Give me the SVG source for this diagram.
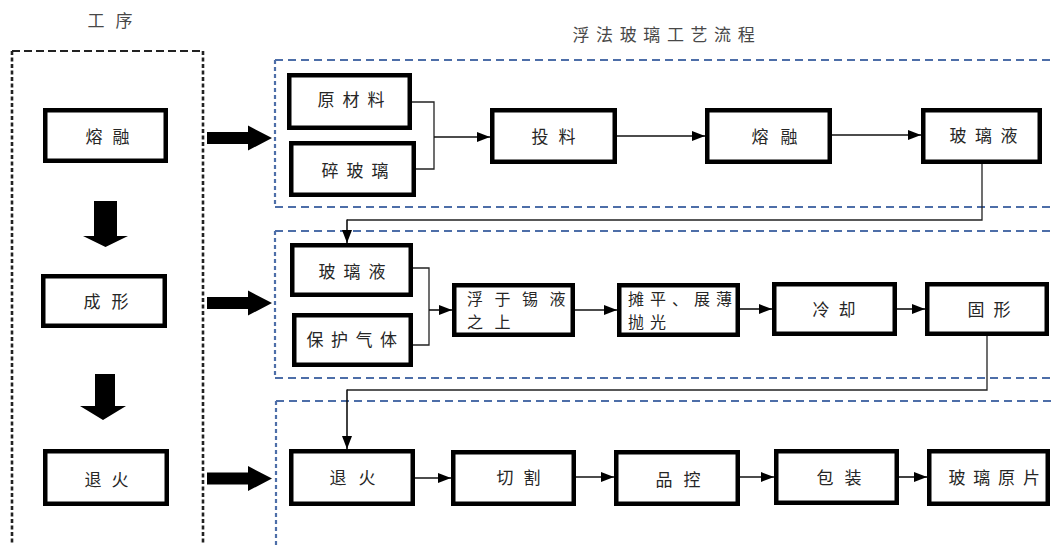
<svg xmlns="http://www.w3.org/2000/svg" width="1051" height="545" viewBox="0 0 1051 545">
<style>
.bg{fill:#ffffff}
.box{fill:#ffffff;stroke:#000000;stroke-width:4.5}
.t{font-family:"Noto Sans CJK SC","Noto Sans",sans-serif;font-size:17px;fill:#262626}
.t2{font-family:"Noto Sans CJK SC","Noto Sans",sans-serif;font-size:16px;fill:#262626}
.tg{font-family:"Noto Sans CJK SC","Noto Sans",sans-serif;font-size:17px;fill:#484848}
.blueH{stroke:#4d6ea8;stroke-width:2.2;stroke-dasharray:8 5;fill:none}
.blueV{stroke:#4d6ea8;stroke-width:2.2;stroke-dasharray:4 3;fill:none}
.blkH{stroke:#222;stroke-width:2.2;stroke-dasharray:8 4;fill:none}
.blkV{stroke:#222;stroke-width:2.6;stroke-dasharray:4 2.5;fill:none}
.c{stroke:#222;stroke-width:1.3;fill:none}
.ca{stroke:#111;stroke-width:1.6;fill:none;marker-end:url(#ah)}
.big{fill:#000}
</style>
<defs>
<marker id="ah" markerUnits="userSpaceOnUse" markerWidth="13" markerHeight="10" refX="13" refY="5" orient="auto">
<path d="M0,0 L13,5 L0,10 z" fill="#000"/>
</marker>
</defs>
<rect class="bg" x="0" y="0" width="1051" height="545"/>

<g id="frames">
<line class="blkH" x1="12" y1="51" x2="203" y2="51"/>
<line class="blkV" x1="12" y1="51" x2="12" y2="545"/>
<line class="blkV" x1="203" y1="51" x2="203" y2="545"/>
<line class="blueH" x1="275" y1="60" x2="1051" y2="60"/>
<line class="blueH" x1="275" y1="207" x2="1051" y2="207"/>
<line class="blueV" x1="275" y1="60" x2="275" y2="207"/>
<line class="blueH" x1="275" y1="231" x2="1051" y2="231"/>
<line class="blueH" x1="275" y1="378" x2="1051" y2="378"/>
<line class="blueV" x1="275" y1="231" x2="275" y2="378"/>
<line class="blueH" x1="276" y1="401" x2="1051" y2="401"/>
<line class="blueV" x1="276" y1="401" x2="276" y2="545"/>
</g>

<g id="titles">
<text class="tg" x="87.5" y="27" letter-spacing="11">工序</text>
<text class="tg" x="572.5" y="41" letter-spacing="6.6">浮法玻璃工艺流程</text>
</g>

<g id="step-melt"><rect class="box" x="45.25" y="110.25" width="120.5" height="50.5"/><text class="t" x="85.5" y="143" letter-spacing="10">熔融</text></g>
<g id="step-form"><rect class="box" x="43.25" y="276.25" width="121.5" height="49.5"/><text class="t" x="83.5" y="308" letter-spacing="11">成形</text></g>
<g id="step-anneal"><rect class="box" x="45.25" y="451.25" width="121.5" height="52.5"/><text class="t" x="84.5" y="486" letter-spacing="10">退火</text></g>

<g id="big-arrows">
<path class="big" d="M94,201 H117 V236 H128 L105.5,247 L83,236 H94 Z"/>
<path class="big" d="M95,374 H115 V406 H126 L103,420 L80,406 H95 Z"/>
<path class="big" d="M207,132 H248 V125.5 L272,138 L248,150.5 V144 H207 Z"/>
<path class="big" d="M207,297 H248 V290.5 L272,303 L248,315.5 V309 H207 Z"/>
<path class="big" d="M207,472.5 H248 V466 L272,478.5 L248,491 V484.5 H207 Z"/>
</g>

<g id="n-raw"><rect class="box" x="289.25" y="75.25" width="120.5" height="52.5"/><text class="t" x="317.5" y="106" letter-spacing="8">原材料</text></g>
<g id="n-cullet"><rect class="box" x="291.25" y="143.25" width="122.5" height="51.5"/><text class="t" x="321.5" y="177" letter-spacing="8">碎玻璃</text></g>
<g id="n-feed"><rect class="box" x="492.25" y="110.25" width="122.5" height="51.5"/><text class="t" x="531.5" y="143" letter-spacing="10">投料</text></g>
<g id="n-melt"><rect class="box" x="707.25" y="110.25" width="122.5" height="51.5"/><text class="t" x="751.5" y="143" letter-spacing="12">熔融</text></g>
<g id="n-liquid"><rect class="box" x="923.25" y="110.25" width="116.5" height="51.5"/><text class="t" x="949.5" y="142" letter-spacing="8.5">玻璃液</text></g>

<g id="n-liquid2"><rect class="box" x="292.25" y="245.25" width="118.5" height="49.5"/><text class="t" x="318.5" y="278" letter-spacing="8">玻璃液</text></g>
<g id="n-gas"><rect class="box" x="294.25" y="315.25" width="116.5" height="49.5"/><text class="t" x="306.5" y="346" letter-spacing="7.5">保护气体</text></g>
<g id="n-float"><rect class="box" x="454.25" y="285.25" width="118.5" height="49.5"/><text class="t2" letter-spacing="11.5"><tspan x="467" y="304.5">浮于锡液</tspan><tspan x="467" y="328">之上</tspan></text></g>
<g id="n-flatten"><rect class="box" x="619.25" y="285.25" width="118.5" height="49.5"/><text class="t2" letter-spacing="6"><tspan x="628" y="304.5">摊平、展薄</tspan><tspan x="628" y="328">抛光</tspan></text></g>
<g id="n-cool"><rect class="box" x="774.25" y="284.25" width="120.5" height="49.5"/><text class="t" x="812.5" y="316" letter-spacing="9">冷却</text></g>
<g id="n-solid"><rect class="box" x="927.25" y="284.25" width="119.5" height="49.5"/><text class="t" x="967.5" y="316" letter-spacing="9">固形</text></g>

<g id="n-anneal"><rect class="box" x="291.25" y="451.25" width="121.5" height="52.5"/><text class="t" x="329.5" y="484" letter-spacing="12">退火</text></g>
<g id="n-cut"><rect class="box" x="453.25" y="452.25" width="120.5" height="51.5"/><text class="t" x="496.5" y="484" letter-spacing="10">切割</text></g>
<g id="n-qc"><rect class="box" x="616.25" y="452.25" width="121.5" height="51.5"/><text class="t" x="655.5" y="486" letter-spacing="11">品控</text></g>
<g id="n-pack"><rect class="box" x="776.25" y="451.25" width="120.5" height="51.5"/><text class="t" x="816.5" y="484" letter-spacing="11">包装</text></g>
<g id="n-sheet"><rect class="box" x="929.25" y="451.25" width="118.5" height="52.5"/><text class="t" x="948.5" y="484" letter-spacing="7.8">玻璃原片</text></g>

<g id="connectors">
<polyline class="c" points="412,102 434,102 434,169 416,169"/>
<line class="ca" x1="434" y1="137" x2="490" y2="137"/>
<line class="ca" x1="617" y1="136" x2="705" y2="136"/>
<line class="ca" x1="832" y1="135" x2="921" y2="135"/>
<polyline class="c" points="982,164 982,220 347,220"/>
<line class="ca" x1="347" y1="219.4" x2="347" y2="243"/>
<polyline class="c" points="413,268 429,268 429,345 413,345"/>
<line class="ca" x1="429" y1="310" x2="452" y2="310"/>
<line class="ca" x1="575" y1="310" x2="617" y2="310"/>
<line class="ca" x1="740" y1="309" x2="772" y2="309"/>
<line class="ca" x1="897" y1="309" x2="925" y2="309"/>
<polyline class="c" points="987,336 987,390 347,390"/>
<line class="ca" x1="347" y1="389.4" x2="347" y2="449"/>
<line class="ca" x1="415" y1="478" x2="451" y2="478"/>
<line class="ca" x1="576" y1="477" x2="614" y2="477"/>
<line class="ca" x1="740" y1="477" x2="774" y2="477"/>
<line class="ca" x1="899" y1="477" x2="927" y2="477"/>
</g>
</svg>
